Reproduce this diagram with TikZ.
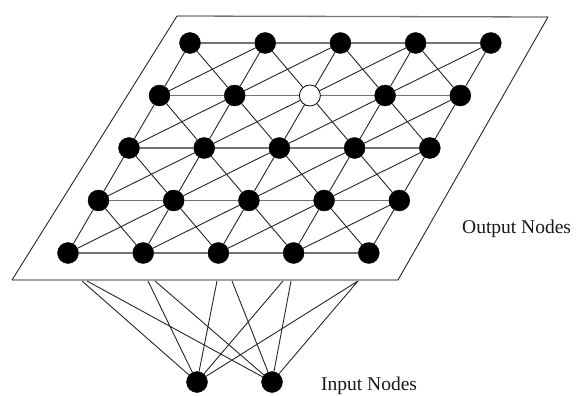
\documentclass[tikz,border=0pt]{standalone}
\usepackage{fontspec}
\setmainfont{Liberation Serif}
\begin{document}
\begin{tikzpicture}[x=1pt,y=-1pt,
  unit/.style={circle,fill=black,draw=black,inner sep=0pt,minimum size=21pt},
  idle/.style={unit,fill=white,line width=0.8pt},
  link/.style={draw=black!85,line width=0.9pt},
  rowlink/.style={draw=black!55,line width=1.3pt},
  caption/.style={font=\fontsize{19.5}{22}\selectfont,anchor=base west,text=black!90,inner sep=0pt}]
\useasboundingbox (0,0) rectangle (576,396);

% map plane
\coordinate (p1) at (177,16);
\coordinate (p2) at (548,17);
\coordinate (p3) at (398,280);
\coordinate (p4) at (12,280);
\fill[white] (p1) -- (p2) -- (p3) -- (p4) -- cycle;
\draw[rowlink] (p1) -- (p2) (p4) -- (p3);
\draw[link] (p2) -- (p3) (p4) -- (p1);

% output units on a sheared 5x5 grid
\foreach \r in {0,...,4} {
  \foreach \c in {0,...,4} {
    \pgfmathsetmacro\px{190-30.5*\r+75.2*\c}
    \pgfmathsetmacro\py{43+52.5*\r}
    \pgfmathtruncatemacro\w{and(\r==1,\c==2)}
    \ifnum\w=1
      \node[idle] (n\r\c) at (\px,\py) {};
    \else
      \node[unit] (n\r\c) at (\px,\py) {};
    \fi
  }
}

% row links
\foreach \r in {0,...,4} {
  \foreach \c [evaluate=\c as \d using int(\c+1)] in {0,...,3} {
    \draw[rowlink] (n\r\c) -- (n\r\d);
  }
}
% column links and both cell diagonals
\foreach \r [evaluate=\r as \s using int(\r+1)] in {0,...,3} {
  \foreach \c in {0,...,4} {
    \draw[link] (n\r\c) -- (n\s\c);
  }
  \foreach \c [evaluate=\c as \d using int(\c+1)] in {0,...,3} {
    \draw[link] (n\r\c) -- (n\s\d);
    \draw[link] (n\s\c) -- (n\r\d);
  }
}

% input units
\node[unit] (i1) at (197,382) {};
\node[unit] (i2) at (272,382) {};

% links leaving the underside of the plane
\coordinate (e0a) at (82,281);
\coordinate (e0b) at (87,281);
\coordinate (e1a) at (148,281);
\coordinate (e1b) at (155,281);
\coordinate (e2a) at (217,281);
\coordinate (e2b) at (232,281);
\coordinate (e3a) at (283,281);
\coordinate (e3b) at (291,281);
\coordinate (e4) at (358,281);
\draw[link] (e0a) -- (i1) (e0b) -- (i2)
            (e1a) -- (i1) (e1b) -- (i2)
            (e2a) -- (i1) (e2b) -- (i2)
            (e3a) -- (i1) (e3b) -- (i2)
            (e4) -- (i1) (e4) -- (i2);

% captions
\node[caption] (outlabel) at (462,233) {Output Nodes};
\node[caption] (inlabel) at (321,390) {Input Nodes};
\end{tikzpicture}
\end{document}
